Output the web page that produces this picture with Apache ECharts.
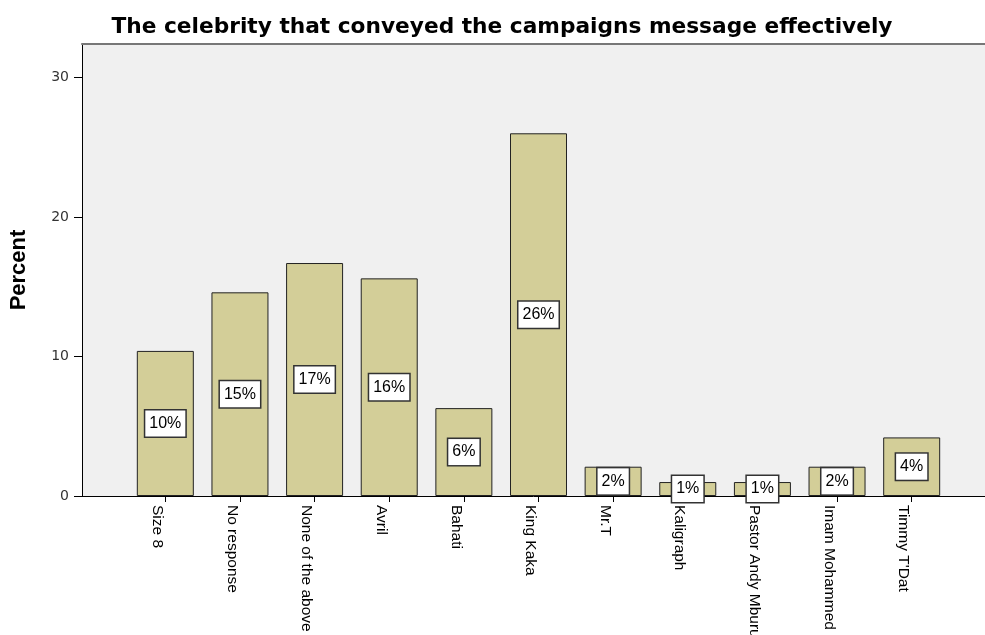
<!DOCTYPE html>
<html>
<head>
<meta charset="utf-8">
<script src="https://cdn.jsdelivr.net/npm/echarts@6/dist/echarts.min.js"></script>
<style>
  html, body { margin: 0; padding: 0; background: #fff; }
  #chart01 { width: 985px; height: 635px; }
</style>
</head>
<body>
<div id="chart01"></div>
<script>
// 数据
var categories = ['Size 8', 'No response', 'None of the above', 'Avril', 'Bahati', 'King Kaka', 'Mr.T', 'Kaligraph', 'Pastor Andy Mburu', 'Imam Mohammed', 'Timmy T\'Dat'];
var percents = [10.4, 14.6, 16.7, 15.6, 6.3, 26.0, 2.1, 1.0, 1.0, 2.1, 4.2];
var yTicks = [0, 10, 20, 30];

var chart01 = echarts.init(document.getElementById('chart01'));
var option = {
  animation: false,
  textStyle: { fontFamily: 'Arial, "Liberation Sans", sans-serif' },
  // 标题
  title: {
    text: 'The celebrity that conveyed the campaigns message effectively',
    left: 497,
    textAlign: 'center',
    top: 11,
    textStyle: { fontSize: 21.7, fontWeight: 'bold', color: '#000', fontFamily: '"DejaVu Sans", sans-serif' }
  },
  grid: [
    // bars
    { left: 128, right: 36, top: 44, bottom: 139, outerBoundsMode: 'none', containLabel: false },
    // frame / background
    { left: 82, right: 0, top: 44, bottom: 139, outerBoundsMode: 'none', containLabel: false,
      show: true, backgroundColor: '#f0f0f0', borderWidth: 0 }
  ],
  xAxis: [
    {
      type: 'category',
      gridIndex: 0,
      data: categories,
      axisLine: { show: false },
      axisTick: { show: true, alignWithLabel: true, length: 6, lineStyle: { color: '#000' } },
      axisLabel: {
        interval: 0,
        rotate: -90,
        margin: 9,
        verticalAlign: 'top',
        color: '#000',
        fontSize: 15.5
      }
    },
    {
      type: 'value',
      gridIndex: 1,
      min: 0, max: 1,
      axisLine: { show: true, lineStyle: { color: '#000', width: 1 } },
      axisTick: { show: false },
      axisLabel: { show: false },
      splitLine: { show: false }
    },
    {
      type: 'value',
      gridIndex: 1,
      position: 'top',
      min: 0, max: 1,
      axisLine: { show: true, lineStyle: { color: '#777', width: 2 } },
      axisTick: { show: false },
      axisLabel: { show: false },
      splitLine: { show: false }
    }
  ],
  yAxis: [
    {
      type: 'value',
      gridIndex: 0,
      min: 0, max: 32.4,
      show: false
    },
    {
      type: 'value',
      gridIndex: 1,
      min: 0, max: 32.4,
      name: 'Percent',
      nameLocation: 'middle',
      nameGap: 52,
      nameRotate: 90,
      nameTextStyle: { fontSize: 22, fontWeight: 'bold', color: '#000' },
      axisLine: { show: true, lineStyle: { color: '#000' } },
      axisTick: { show: true, length: 8, customValues: yTicks, lineStyle: { color: '#000' } },
      axisLabel: {
        color: '#333',
        fontSize: 14,
        fontFamily: '"DejaVu Sans", sans-serif',
        margin: 13,
        customValues: yTicks
      },
      splitLine: { show: false }
    }
  ],
  series: [
    {
      type: 'bar',
      xAxisIndex: 0,
      yAxisIndex: 0,
      data: percents,
      barWidth: 57,
      itemStyle: { color: '#d3ce98', borderColor: '#222', borderWidth: 1 },
      label: {
        show: true,
        position: 'inside',
        formatter: function (p) { return Math.round(p.value) + '%'; },
        color: '#000',
        fontSize: 16,
        lineHeight: 16,
        backgroundColor: '#fff',
        borderColor: '#333',
        borderWidth: 1.5,
        padding: [5, 4, 5, 4]
      }
    }
  ]
};
chart01.setOption(option);
</script>
</body>
</html>
